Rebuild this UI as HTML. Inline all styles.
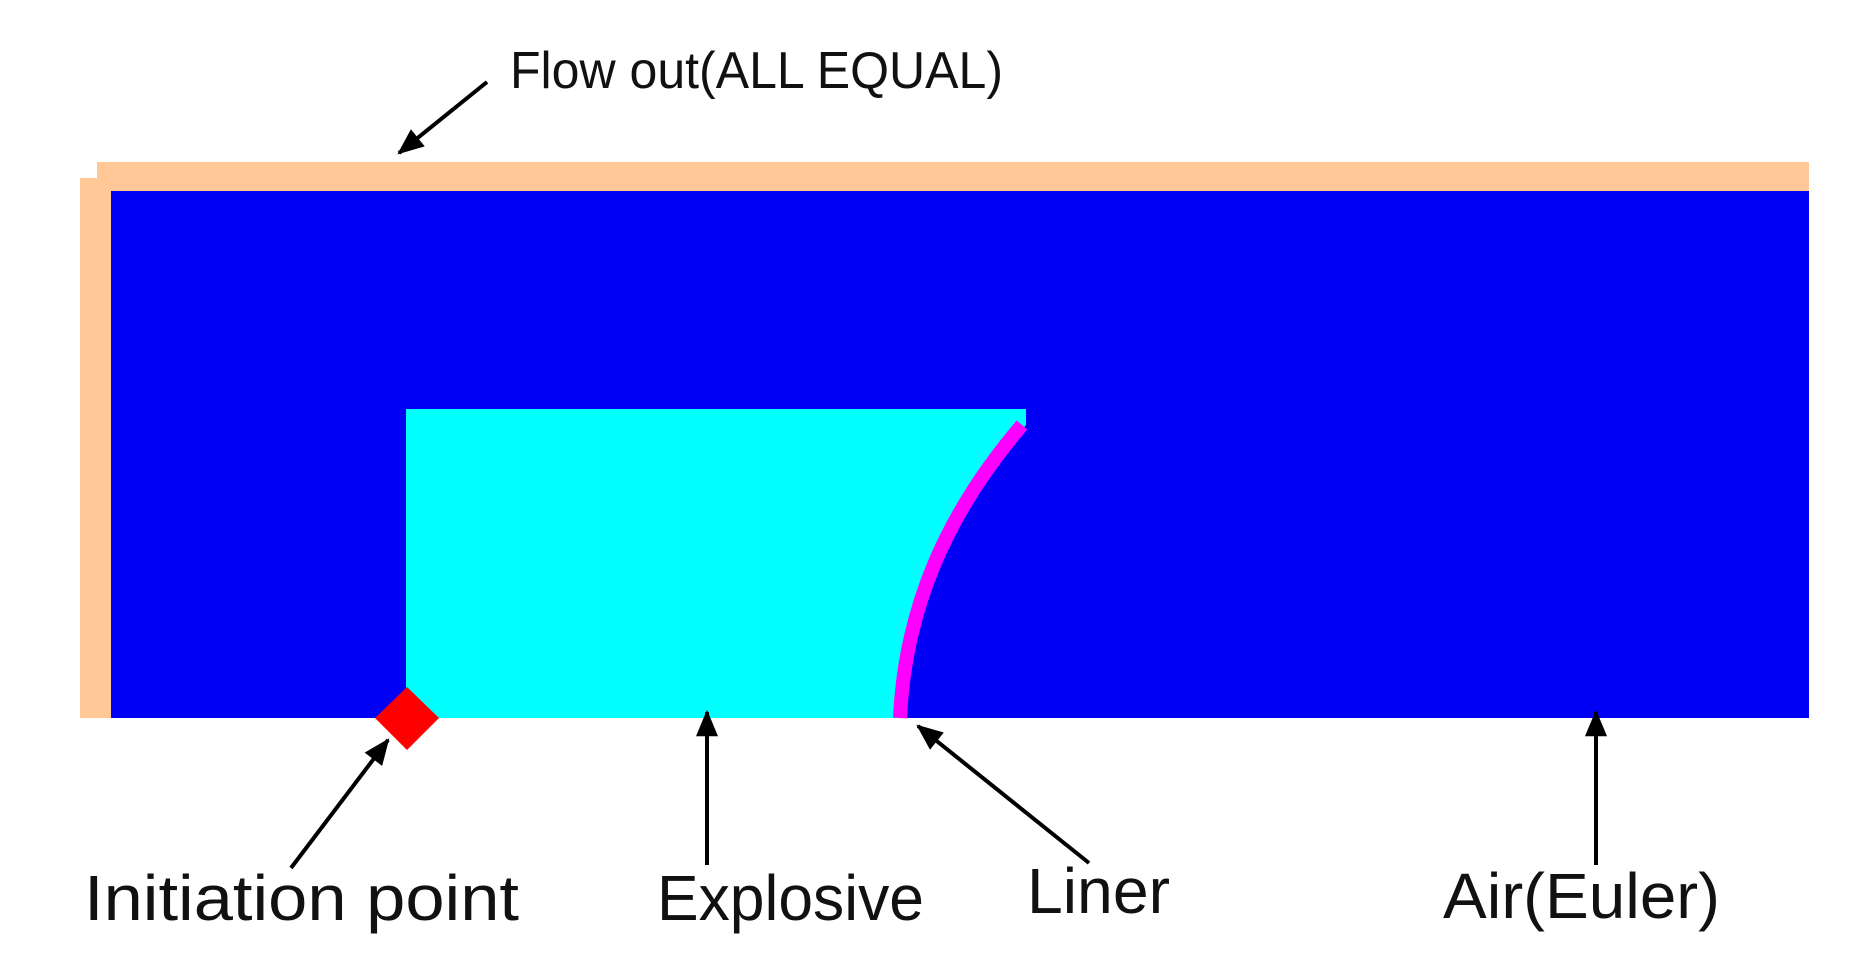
<!DOCTYPE html>
<html><head><meta charset="utf-8"><style>
html,body{margin:0;padding:0;background:#fff;}
svg{display:block;}
text{font-family:"Liberation Sans",sans-serif;fill:#111;}
</style></head><body>
<svg width="1876" height="977" viewBox="0 0 1876 977" xmlns="http://www.w3.org/2000/svg">
<defs>
<marker id="ah" viewBox="0 0 12 10" refX="11" refY="5" markerWidth="8" markerHeight="5.5" markerUnits="strokeWidth" orient="auto">
<path d="M0,0 L12,5 L0,10 z" fill="#000"/>
</marker>
</defs>
<rect x="97" y="162" width="1712" height="30" fill="#ffc896"/>
<rect x="80" y="178" width="32" height="540" fill="#ffc896"/>
<rect x="111" y="191" width="1698" height="527" fill="#0000f5"/>
<path d="M406,409 L1026,409 L1026,425 C945,515 905,610 900,718 L406,718 Z" fill="#00ffff"/>
<path d="M1022,425 C945,515 905,610 900,718" fill="none" stroke="#ff00ff" stroke-width="14"/>
<polygon points="407,687 439,718 407,750 375,718" fill="#ff0000"/>
<g stroke="#000" stroke-width="4" fill="none">
<line x1="487" y1="82" x2="399" y2="153" marker-end="url(#ah)"/>
<line x1="291" y1="868" x2="388" y2="740" marker-end="url(#ah)"/>
<line x1="707" y1="865" x2="707" y2="712" marker-end="url(#ah)"/>
<line x1="1089" y1="863" x2="918" y2="726" marker-end="url(#ah)"/>
<line x1="1596" y1="865" x2="1596" y2="712" marker-end="url(#ah)"/>
</g>
<text x="510" y="88" font-size="52" textLength="493" lengthAdjust="spacingAndGlyphs">Flow out(ALL EQUAL)</text>
<text x="84" y="920" font-size="64" textLength="435" lengthAdjust="spacingAndGlyphs">Initiation point</text>
<text x="657" y="920" font-size="64" textLength="267" lengthAdjust="spacingAndGlyphs">Explosive</text>
<text x="1027" y="913" font-size="64" textLength="143" lengthAdjust="spacingAndGlyphs">Liner</text>
<text x="1443" y="918" font-size="64" textLength="277" lengthAdjust="spacingAndGlyphs">Air(Euler)</text>
</svg>
</body></html>
